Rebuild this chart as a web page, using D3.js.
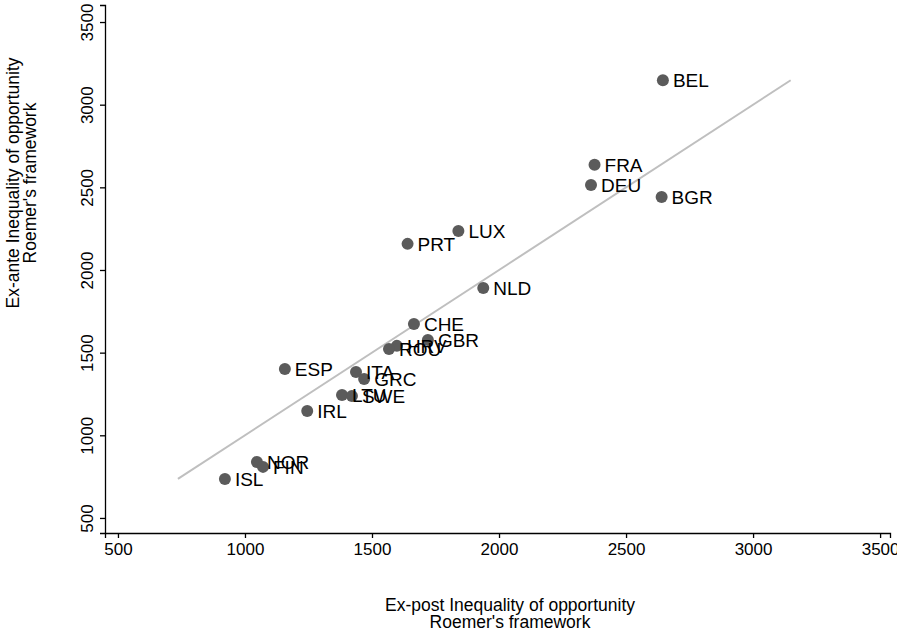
<!DOCTYPE html>
<html>
<head>
<meta charset="utf-8">
<script src="https://cdn.jsdelivr.net/npm/d3@7"></script>
<style>
  body { margin: 0; background: #fff; }
  svg { display: block; font-family: "Liberation Sans", Arial, Helvetica, sans-serif; }
</style>
</head>
<body>
<svg id="chart" width="897" height="637"></svg>
<script>
const countries = ["BEL","FRA","DEU","BGR","LUX","PRT","NLD","CHE","GBR","HRV","ROU","ITA","GRC","ESP","LTU","SWE","IRL","NOR","FIN","ISL"];
const expost   = [2645, 2376, 2362, 2640, 1840, 1640, 1938, 1665, 1720, 1598, 1567, 1437, 1469, 1157, 1382, 1421, 1245, 1047, 1071, 921];
const exante   = [3148, 2636, 2514, 2442, 2236, 2158, 1891, 1674, 1577, 1541, 1522, 1383, 1341, 1401, 1244, 1238, 1147, 839, 809, 736];
const xTicks = [500, 1000, 1500, 2000, 2500, 3000, 3500];
const yTicks = [500, 1000, 1500, 2000, 2500, 3000, 3500];
const xTitle = ["Ex-post Inequality of opportunity", "Roemer's framework"];
const yTitle = ["Ex-ante Inequality of opportunity", "Roemer's framework"];

const data = countries.map((c, i) => ({ c, x: expost[i], y: exante[i] }));
const svg = d3.select("#chart");

const x = d3.scaleLinear().domain([449, 3539]).range([105, 890]);
const y = d3.scaleLinear().domain([409, 3603]).range([533, 5]);

// reference line y = x over range of values
const allVals = expost.concat(exante);
const lo = d3.min(allVals), hi = d3.max(allVals);
svg.append("line")
  .attr("x1", x(lo)).attr("y1", y(lo))
  .attr("x2", x(hi)).attr("y2", y(hi))
  .attr("stroke", "#bfbfbf").attr("stroke-width", 2);

// axes
const xAxis = svg.append("g").attr("transform", "translate(0,533)")
  .call(d3.axisBottom(x).tickValues(xTicks).tickSize(5).tickPadding(5).tickFormat(d3.format("d")));
const yAxis = svg.append("g").attr("transform", "translate(105,0)")
  .call(d3.axisLeft(y).tickValues(yTicks).tickSize(5).tickPadding(4).tickFormat(d3.format("d")));
[xAxis, yAxis].forEach(g => {
  g.attr("font-size", null).attr("font-family", null);
  g.select(".domain").attr("stroke", "#000").attr("stroke-width", 1.3);
  g.selectAll(".tick line").attr("stroke", "#000").attr("stroke-width", 1.3);
  g.selectAll("text").attr("fill", "#000").attr("font-size", 17);
});
yAxis.selectAll(".tick text")
  .attr("x", null).attr("dy", null)
  .attr("text-anchor", "middle")
  .attr("transform", "translate(-12,0) rotate(-90)");

// points
svg.append("g").selectAll("circle").data(data).join("circle")
  .attr("cx", d => x(d.x)).attr("cy", d => y(d.y)).attr("r", 6)
  .attr("fill", "#5b5b5b");

// labels
svg.append("g").selectAll("text").data(data).join("text")
  .attr("x", d => x(d.x) + 10).attr("y", d => y(d.y) + 7)
  .attr("font-size", 19).attr("fill", "#000")
  .text(d => d.c);

// titles
svg.append("text").attr("x", 510).attr("y", 611).attr("text-anchor", "middle")
  .attr("font-size", 17.5).text(xTitle[0]);
svg.append("text").attr("x", 510).attr("y", 628).attr("text-anchor", "middle")
  .attr("font-size", 17.5).text(xTitle[1]);
svg.append("text").attr("transform", "translate(19,183) rotate(-90)").attr("text-anchor", "middle")
  .attr("font-size", 17.5).text(yTitle[0]);
svg.append("text").attr("transform", "translate(36,183) rotate(-90)").attr("text-anchor", "middle")
  .attr("font-size", 17.5).text(yTitle[1]);
</script>
</body>
</html>
